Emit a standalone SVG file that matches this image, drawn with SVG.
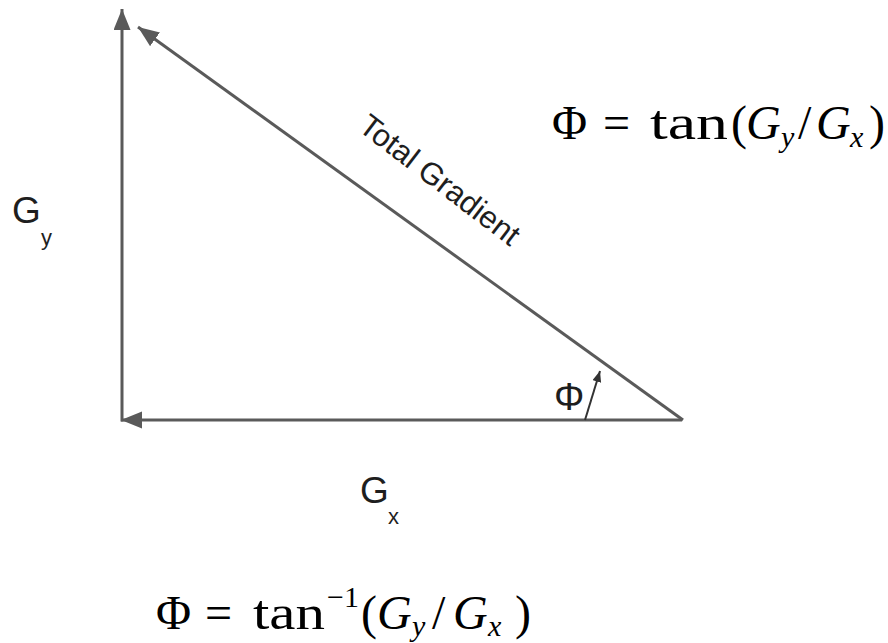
<svg xmlns="http://www.w3.org/2000/svg" width="888" height="643" viewBox="0 0 888 643">
<style>
.ln{stroke:#5a5a5a;stroke-width:3;fill:none}
.lbl{font-family:"Liberation Sans",Arial,sans-serif;fill:#1e1e1e}
.math{font-family:"Liberation Serif","DejaVu Serif",serif;fill:#000;font-size:48px}
.it{font-style:italic}
.sub{font-style:italic;font-size:30px}
</style>
<defs>
<marker id="ah" markerUnits="userSpaceOnUse" markerWidth="22" markerHeight="18" refX="21" refY="8.5" orient="auto">
<path d="M0,0 L21,8.5 L0,17 Z" fill="#5a5a5a"/>
</marker>
<marker id="ahs" markerUnits="userSpaceOnUse" markerWidth="12" markerHeight="10" refX="11" refY="4.5" orient="auto">
<path d="M0,0 L11,4.5 L0,9 Z" fill="#333"/>
</marker>
</defs>
<rect width="888" height="643" fill="#fff"/>
<g id="connectors">
<line class="ln" x1="122" y1="421.5" x2="122" y2="9" marker-end="url(#ah)"/>
<line class="ln" x1="682" y1="420" x2="121" y2="420" marker-end="url(#ah)"/>
<line class="ln" x1="683" y1="420" x2="138" y2="27" marker-end="url(#ah)"/>
<line x1="585" y1="420" x2="600" y2="371" stroke="#333" stroke-width="2" marker-end="url(#ahs)"/>
</g>
<g id="label-gy" class="lbl">
<text x="12" y="223" font-size="37">G</text>
<text x="41" y="245" font-size="22">y</text>
</g>
<g id="label-gx" class="lbl">
<text x="360" y="503" font-size="37">G</text>
<text x="388" y="524" font-size="22">x</text>
</g>
<g id="label-phi" class="lbl">
<text x="554" y="410" font-size="38">Φ</text>
</g>
<g id="label-total" class="lbl">
<text x="440" y="180" font-size="31" text-anchor="middle" dominant-baseline="central" transform="rotate(37.5 440 180)">Total Gradient</text>
</g>
<g id="formula-top" class="math">
<text x="552" y="139">Φ</text>
<text x="603" y="139">=</text>
<text x="650" y="139" textLength="78" lengthAdjust="spacingAndGlyphs">tan</text>
<text x="731" y="139">(</text>
<text x="746" y="139" class="it">G</text>
<text x="781" y="147" class="sub">y</text>
<text x="798" y="139">/</text>
<text x="816" y="139" class="it">G</text>
<text x="850" y="147" class="sub">x</text>
<text x="869" y="139">)</text>
</g>
<g id="formula-bottom" class="math">
<text x="156" y="629">Φ</text>
<text x="205" y="629">=</text>
<text x="253" y="629" textLength="72" lengthAdjust="spacingAndGlyphs">tan</text>
<text x="327" y="607" font-size="30">−1</text>
<text x="361" y="629">(</text>
<text x="377" y="629" class="it">G</text>
<text x="412" y="636" class="sub">y</text>
<text x="432" y="629">/</text>
<text x="453" y="629" class="it">G</text>
<text x="488" y="636" class="sub">x</text>
<text x="515" y="629">)</text>
</g>
</svg>
